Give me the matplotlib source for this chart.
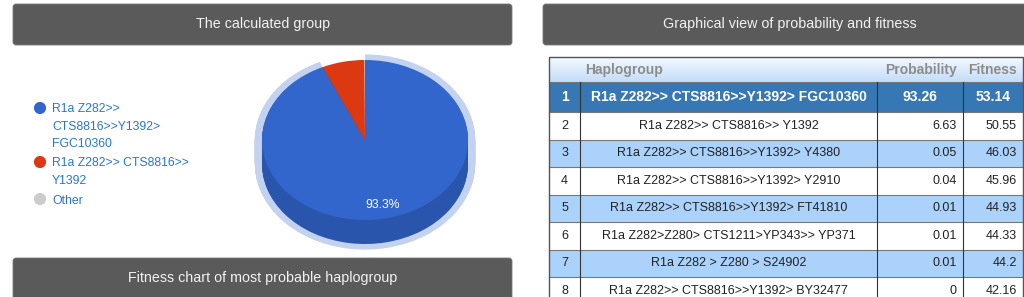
import numpy as np
import matplotlib.pyplot as plt
from matplotlib.patches import FancyBboxPatch, Rectangle
from matplotlib.colors import LinearSegmentedColormap

plt.rcParams['font.family'] = ['Liberation Sans', 'DejaVu Sans']

# DATA
pie_labels = ['R1a Z282>>\nCTS8816>>Y1392>\nFGC10360', 'R1a Z282>> CTS8816>>\nY1392', 'Other']
pie_values = [93.26, 6.63, 0.11]
pie_colors = ['#3366cc', '#dc3912', '#cccccc']
side_colors = ['#2a55ad', '#a8300f', '#999999']

haplogroups = ['R1a Z282>> CTS8816>>Y1392> FGC10360',
               'R1a Z282>> CTS8816>> Y1392',
               'R1a Z282>> CTS8816>>Y1392> Y4380',
               'R1a Z282>> CTS8816>>Y1392> Y2910',
               'R1a Z282>> CTS8816>>Y1392> FT41810',
               'R1a Z282>Z280> CTS1211>YP343>> YP371',
               'R1a Z282 > Z280 > S24902',
               'R1a Z282>> CTS8816>>Y1392> BY32477']
probability = [93.26, 6.63, 0.05, 0.04, 0.01, 0.01, 0.01, 0]
fitness = [53.14, 50.55, 46.03, 45.96, 44.93, 44.33, 44.2, 42.16]

W, H = 1024, 297
fig = plt.figure(figsize=(W / 100, H / 100), dpi=100)
ax = fig.add_axes([0, 0, 1, 1])
ax.set_xlim(0, W)
ax.set_ylim(H, 0)
ax.axis('off')


def box(x0, y0, x1, y1):
    return [x0 / W, 1 - y1 / H, (x1 - x0) / W, (y1 - y0) / H]


# headers
hdr = '#5a5a5a'
for x0, y0, x1, y1, tx, ty, txt in [(13, 4, 512, 45, 263, 24, 'The calculated group'),
                                    (13, 258, 512, 310, 263, 278, 'Fitness chart of most probable haplogroup'),
                                    (543, 4, 1034, 45, 790, 24, 'Graphical view of probability and fitness')]:
    ax.add_patch(FancyBboxPatch((x0, y0), x1 - x0, y1 - y0,
                                boxstyle='round,pad=0,rounding_size=3',
                                fc=hdr, ec='#777777', lw=0.6))
    ax.text(tx, ty, txt, color='#f2f2f2', fontsize=10.3, ha='center', va='center')

# legend
leg_y = [108, 162, 199]
ax.scatter([40] * 3, leg_y, s=60, c=pie_colors, zorder=3)
for y, lab in zip(leg_y, pie_labels):
    ax.text(52, y - 4.5, lab, color='#2877d0', fontsize=8.8, ha='left', va='top',
            linespacing=1.6)

# 3d pie
ca, cb = 103, 80        # px per unit, horizontal / vertical
cx, cy = 365, 140
pax = fig.add_axes(box(cx - 1.2 * ca, cy - 1.2 * cb, cx + 1.2 * ca, cy + 1.55 * cb))
depth = 0.3
offs = np.linspace(0, depth, 30)
for o in offs:
    pax.pie(pie_values, radius=1.07, colors=['#c3d2ee', 'none', 'none'],
            center=(0, -o), startangle=90, counterclock=False,
            wedgeprops=dict(linewidth=0))
for o in offs[::-1][:-1]:
    pax.pie(pie_values, colors=side_colors, center=(0, -o), startangle=90,
            counterclock=False, wedgeprops=dict(linewidth=0))
pax.pie(pie_values, colors=pie_colors, startangle=90, counterclock=False,
        wedgeprops=dict(linewidth=0),
        autopct=lambda p: f'{p:.1f}%' if p > 50 else '', pctdistance=0.83,
        textprops=dict(color='white', fontsize=8.7))
pax.set_aspect('auto')
pax.set_xlim(-1.2, 1.2)
pax.set_ylim(-1.55, 1.2)
pax.axis('off')

# table
tl, tr = 549, 1023
c1, c2, c3 = 580, 877, 963
top, hbot = 57, 82
rh = [30] + [27.5] * 7
grad = np.linspace(0, 1, 50).reshape(-1, 1)
cm = LinearSegmentedColormap.from_list('h', ['#f4f9fe', '#c3ddf8'])
ax.imshow(grad, extent=(tl, tr, hbot, top), cmap=cm, aspect='auto', zorder=1)
ax.text(585, 70, 'Haplogroup', color='#8c8c8c', fontsize=10, fontweight='bold',
        ha='left', va='center', zorder=4)
ax.text(957, 70, 'Probability', color='#8c8c8c', fontsize=10, fontweight='bold',
        ha='right', va='center', zorder=4)
ax.text(1017, 70, 'Fitness', color='#8c8c8c', fontsize=10, fontweight='bold',
        ha='right', va='center', zorder=4)

y = hbot
for i, (hg, p, f) in enumerate(zip(haplogroups, probability, fitness)):
    h = rh[i]
    if i == 0:
        bg, tc, fw, fs = '#3777b3', 'white', 'bold', 10
    else:
        bg = '#aad2fb' if i % 2 == 0 else 'white'
        tc, fw, fs = '#222222', 'normal', 9
    ax.add_patch(Rectangle((tl, y), tr - tl, h, fc=bg, ec='none', zorder=1))
    ax.plot([tl, tr], [y, y], color='#777777', lw=0.8, zorder=2)
    for xv in (c1, c2, c3):
        ax.plot([xv, xv], [y, y + h], color='#333333', lw=0.8, zorder=2)
    yc = y + h / 2
    ax.text((tl + c1) / 2, yc, str(i + 1), color=tc, fontsize=fs, fontweight=fw,
            ha='center', va='center', zorder=4)
    ax.text((c1 + c2) / 2, yc, hg, color=tc, fontsize=fs, fontweight=fw,
            ha='center', va='center', zorder=4)
    if i == 0:
        ax.text((c2 + c3) / 2, yc, f'{p:g}', color=tc, fontsize=fs, fontweight=fw,
                ha='center', va='center', zorder=4)
        ax.text((c3 + tr) / 2, yc, f'{f:g}', color=tc, fontsize=fs, fontweight=fw,
                ha='center', va='center', zorder=4)
    else:
        ax.text(957, yc, f'{p:g}', color=tc, fontsize=fs, ha='right', va='center', zorder=4)
        ax.text(1017, yc, f'{f:g}', color=tc, fontsize=fs, ha='right', va='center', zorder=4)
    y += h
ax.plot([tl, tl, tr, tr], [H + 5, top, top, H + 5], color='#555555', lw=1, zorder=3)

fig.savefig('out.png', dpi=100)
